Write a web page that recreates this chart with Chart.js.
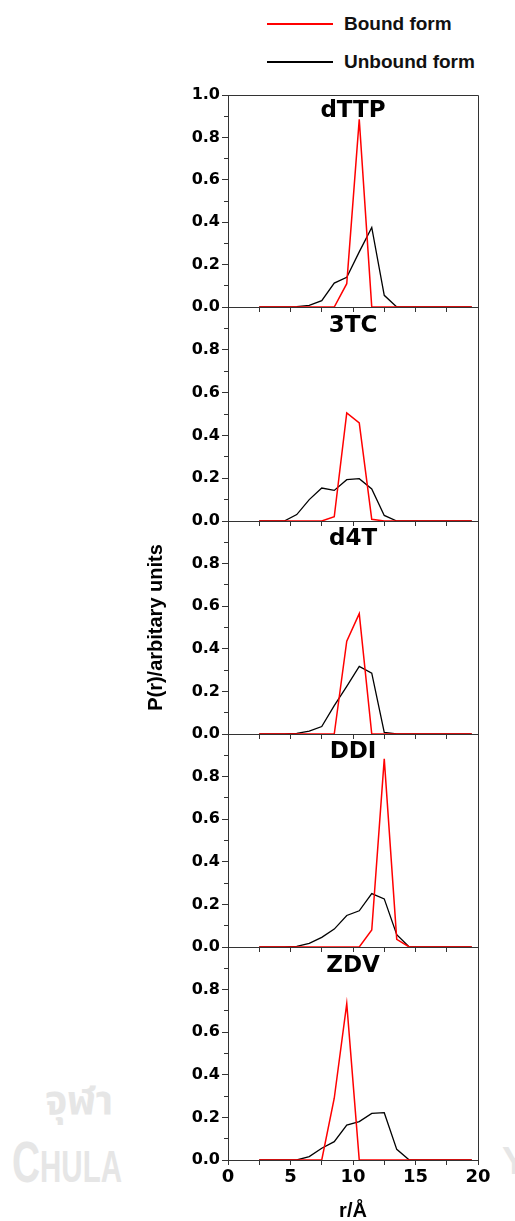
<!DOCTYPE html>
<html>
<head>
<meta charset="utf-8">
<script src="https://cdn.jsdelivr.net/npm/chart.js@4.4.1/dist/chart.umd.min.js"></script>
<style>
  body { margin: 0; background: #fff; width: 515px; height: 1221px; position: relative; overflow: hidden; }
  canvas { position: absolute; left: 0; }
  #legend { position: absolute; left: 267px; top: 0; font: bold 19px "Liberation Sans", Arial, sans-serif; color: #111; }
  #legend div { position: absolute; left: 0; height: 20px; display: flex; align-items: center; white-space: nowrap; }
  #legend .swatch { display: inline-block; width: 66px; height: 2px; margin-right: 11px; }
  .wm { position: absolute; overflow: hidden; color: #e6e6e6; font-family: "Liberation Sans", Arial, sans-serif; font-weight: bold; white-space: nowrap; }
</style>
</head>
<body>
<div class="wm" style="left:0; top:1072px; width:125px; height:60px;">
  <div style="position:absolute; left:45px; top:0; font-size:40px; font-family:'Noto Sans Thai','Noto Sans',sans-serif;">จุฬา</div>
</div>
<div class="wm" style="left:0; top:1128px; width:125px; height:60px;">
  <div style="position:absolute; left:12px; top:0; transform:scaleX(0.67); transform-origin:left top;"><span style="font-size:58px">C</span><span style="font-size:44px">HULA</span></div>
</div>
<div class="wm" style="left:500px; top:1140px; width:15px; height:45px;">
  <div style="position:absolute; left:2px; top:0; font-size:38px;">Y</div>
</div>
<div id="legend"></div>
<div id="panels"></div>
<script>
// r / Angstrom bins
const rValues = [2.5, 3.5, 4.5, 5.5, 6.5, 7.5, 8.5, 9.5, 10.5, 11.5, 12.5, 13.5, 14.5, 15.5, 16.5, 17.5, 18.5, 19.5];

const panelNames = ['dTTP', '3TC', 'd4T', 'DDI', 'ZDV'];
const seriesNames = ['Bound form', 'Unbound form'];
const seriesColors = ['#ff0000', '#000000'];

const boundDTTP   = [0, 0, 0, 0, 0, 0, 0, 0.11, 0.885, 0, 0, 0, 0, 0, 0, 0, 0, 0];
const unboundDTTP = [0, 0, 0, 0.002, 0.008, 0.03, 0.113, 0.14, 0.26, 0.375, 0.055, 0, 0, 0, 0, 0, 0, 0];
const bound3TC    = [0, 0, 0, 0, 0, 0, 0.02, 0.505, 0.458, 0.008, 0, 0, 0, 0, 0, 0, 0, 0];
const unbound3TC  = [0, 0, 0, 0.03, 0.10, 0.154, 0.143, 0.193, 0.198, 0.15, 0.026, 0, 0, 0, 0, 0, 0, 0];
const boundD4T    = [0, 0, 0, 0, 0, 0, 0, 0.436, 0.565, 0, 0, 0, 0, 0, 0, 0, 0, 0];
const unboundD4T  = [0, 0, 0, 0.003, 0.013, 0.035, 0.133, 0.224, 0.317, 0.286, 0.008, 0, 0, 0, 0, 0, 0, 0];
const boundDDI    = [0, 0, 0, 0, 0, 0, 0, 0, 0, 0.08, 0.883, 0.036, 0, 0, 0, 0, 0, 0];
const unboundDDI  = [0, 0, 0, 0.003, 0.017, 0.045, 0.084, 0.148, 0.17, 0.251, 0.226, 0.058, 0, 0, 0, 0, 0, 0];
const boundZDV    = [0, 0, 0, 0, 0, 0, 0.29, 0.734, 0, 0, 0, 0, 0, 0, 0, 0, 0, 0];
const unboundZDV  = [0, 0, 0, 0, 0.016, 0.055, 0.086, 0.164, 0.18, 0.219, 0.222, 0.05, 0, 0, 0, 0, 0, 0];

const boundSeries = [boundDTTP, bound3TC, boundD4T, boundDDI, boundZDV];
const unboundSeries = [unboundDTTP, unbound3TC, unboundD4T, unboundDDI, unboundZDV];

const yTicks = [0, 0.2, 0.4, 0.6, 0.8, 1.0];
const xTicks = [0, 5, 10, 15, 20];

// page layout
const panelTop = [95, 307, 521, 734, 947];
const panelBottom = 1160;
const titleBaseline = [22, 25, 24, 24, 25];
const padTop = 15;
const axisColor = '#333';

// legend, built from the series arrays
const legendBox = document.getElementById('legend');
seriesNames.forEach((name, k) => {
  const row = document.createElement('div');
  row.style.top = (14 + k * 38) + 'px';
  row.innerHTML = `<span class="swatch" style="background:${seriesColors[k]}"></span>${name}`;
  legendBox.appendChild(row);
});

// title inside each panel + box frame
const panelDecor = {
  id: 'panelDecor',
  beforeDatasetsDraw(chart, args, opts) {
    const { ctx, chartArea: a } = chart;
    ctx.save();
    ctx.strokeStyle = axisColor;
    ctx.lineWidth = 1;
    ctx.beginPath();
    const r = Math.round(a.right) + 0.5;
    const t = Math.round(a.top) + 0.5;
    if (opts.first) {
      ctx.moveTo(Math.round(a.left) + 0.5, t);
      ctx.lineTo(r, t);
    }
    ctx.moveTo(r, t);
    ctx.lineTo(r, Math.round(a.bottom) + 0.5);
    ctx.stroke();
    ctx.restore();
  },
  afterDraw(chart, args, opts) {
    const { ctx, chartArea: a } = chart;
    ctx.save();
    ctx.font = 'bold 23px "DejaVu Sans"';
    ctx.fillStyle = '#000';
    ctx.textAlign = 'center';
    ctx.textBaseline = 'alphabetic';
    ctx.fillText(opts.text, (a.left + a.right) / 2, a.top + opts.baseline);
    ctx.restore();
  }
};

const holder = document.getElementById('panels');

panelNames.forEach((name, i) => {
  const last = i === panelNames.length - 1;
  const bottom = last ? panelBottom : panelTop[i + 1];
  const xAxisH = last ? 61 : 15;
  const canvas = document.createElement('canvas');
  canvas.width = 515;
  canvas.height = padTop + (bottom - panelTop[i]) + xAxisH;
  canvas.style.top = (panelTop[i] - padTop) + 'px';
  holder.appendChild(canvas);

  const toPoints = vals => vals.map((v, k) => ({ x: rValues[k], y: v }));

  new Chart(canvas, {
    type: 'line',
    data: {
      datasets: [
        { label: seriesNames[0], data: toPoints(boundSeries[i]), borderColor: seriesColors[0], borderWidth: 1.5 },
        { label: seriesNames[1], data: toPoints(unboundSeries[i]), borderColor: seriesColors[1], borderWidth: 1.3 }
      ]
    },
    options: {
      responsive: false,
      animation: false,
      layout: { padding: { top: padTop, left: 138, right: 37, bottom: 0 } },
      elements: { point: { radius: 0 }, line: { tension: 0 } },
      plugins: {
        legend: { display: false },
        tooltip: { enabled: false },
        panelDecor: { text: name, baseline: titleBaseline[i], first: i === 0 }
      },
      scales: {
        x: {
          type: 'linear',
          min: 0,
          max: 20,
          border: { color: axisColor, width: 1 },
          grid: { drawOnChartArea: false, drawTicks: true, tickLength: 5, tickColor: axisColor },
          ticks: {
            display: last,
            stepSize: 2.5,
            autoSkip: false,
            maxRotation: 0,
            padding: 2,
            color: '#000',
            font: { family: 'DejaVu Sans', weight: 'bold', size: 18 },
            callback: v => xTicks.includes(v) ? String(v) : ''
          },
          title: {
            display: last,
            text: 'r/Å',
            color: '#000',
            padding: 0,
            font: { family: 'Liberation Sans', weight: 'bold', size: 20, lineHeight: 1 }
          },
          afterFit: s => { s.height = xAxisH; }
        },
        y: {
          min: 0,
          max: 1,
          border: { color: axisColor, width: 1 },
          grid: {
            drawOnChartArea: false,
            drawTicks: true,
            tickLength: 6,
            tickColor: axisColor,
            tickBorderDash: c => (c.tick && Math.round(c.tick.value * 10) % 2 ? [0, 2, 4, 50] : [])
          },
          ticks: {
            stepSize: 0.1,
            autoSkip: false,
            padding: 2,
            color: '#000',
            font: { family: 'DejaVu Sans', weight: 'bold', size: 16 },
            callback: v => {
              const val = Math.round(v * 10) / 10;
              if (!yTicks.includes(val)) return '';
              if (val === 1 && i > 0) return '';
              return val.toFixed(1);
            }
          },
          title: {
            display: i === 2,
            text: 'P(r)/arbitary units',
            color: '#000',
            padding: { top: 6, bottom: 0 },
            font: { family: 'Liberation Sans', weight: 'bold', size: 20 }
          },
          afterFit: s => { s.width = 90; }
        }
      }
    },
    plugins: [panelDecor]
  });
});
</script>
</body>
</html>
